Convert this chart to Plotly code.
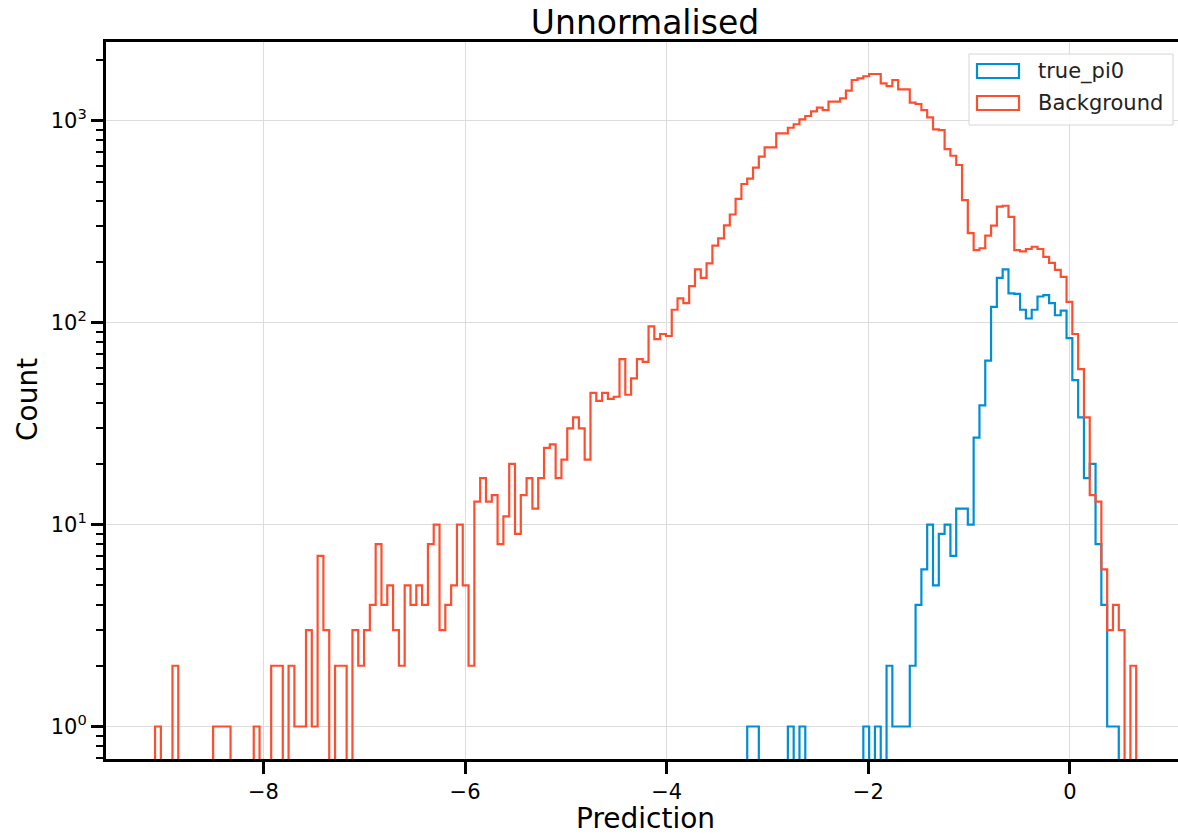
import numpy as np
import plotly.graph_objects as go

# ---------------- data ----------------
bin_start = -9.0754
bin_width = 0.05759

# Background: counts for bins 0..168
background_counts = [
    1, 0, 0, 2, 0, 0, 0, 0, 0, 0,
    1, 1, 1, 0, 0, 0, 0, 1, 0, 0,
    2, 2, 0, 2, 1, 1, 3, 1, 7, 3,
    0, 2, 2, 0, 3, 2, 3, 4, 8, 4,
    5, 3, 2, 5, 4, 5, 4, 8, 10, 3,
    4, 5, 10, 5, 2, 13, 17, 13, 14, 8,
    11, 20, 9, 14, 17, 12, 17, 24, 25, 17,
    21, 30, 34, 30, 21, 45, 41, 45, 42, 43,
    66, 44, 53, 66, 64, 96, 83, 88, 86, 116,
    132, 125, 152, 184, 167, 197, 241, 262, 304, 344,
    411, 487, 518, 587, 665, 740, 740, 868, 868, 925,
    963, 1019, 1058, 1116, 1163, 1130, 1245, 1245, 1294, 1413,
    1595, 1623, 1665, 1708, 1708, 1536, 1489, 1595, 1434, 1434,
    1231, 1213, 1132, 1042, 908, 900, 725, 672, 605, 405,
    278, 229, 234, 270, 303, 376, 380, 335, 229, 226,
    232, 238, 232, 212, 198, 183, 169, 127, 88, 59,
    34, 14, 13, 6, 3, 4, 3, 0, 2,
]
background_first_bin = 0

# true_pi0: counts for bins 102..165 (same binning)
true_pi0_first_bin = 102
true_pi0_counts = [
    1, 1, 0, 0, 0, 0, 0, 1, 0, 1,
    0, 0, 0, 0, 0, 0, 0, 0, 0, 0,
    1, 0, 1, 0, 2, 1, 1, 1, 2, 4,
    6, 10, 5, 9, 10, 7, 12, 12, 10, 27,
    39, 65, 120, 167, 184, 140, 139, 116, 105, 116,
    135, 137, 125, 109, 115, 84, 52, 34, 17, 20,
    8, 4, 1, 1,
]

series_names = ["true_pi0", "Background"]
series_colors = ["#008fd5", "#fc4f30"]

x_tick_vals = [-8, -6, -4, -2, 0]
x_tick_text = ["\u22128", "\u22126", "\u22124", "\u22122", "0"]
y_tick_vals = [1, 10, 100, 1000]
y_tick_text = ["10<sup>0</sup>", "10<sup>1</sup>", "10<sup>2</sup>", "10<sup>3</sup>"]
y_minor_vals = [0.7, 0.8, 0.9, 2, 3, 4, 5, 6, 7, 8, 9,
                20, 30, 40, 50, 60, 70, 80, 90,
                200, 300, 400, 500, 600, 700, 800, 900, 2000]

title_text = "Unnormalised"
x_label = "Prediction"
y_label = "Count"

# ---------------- figure ----------------
FLOOR = 1e-3  # zero-count bins drop below the visible axis range
FONT = "DejaVu Sans"

W, H = 1178, 834
L, R, T, B = 106, 0, 42, 75
PW, PH = W - L - R, H - T - B


def px_x(p):
    return (p - L) / PW


def px_y(p):
    return (H - B - p) / PH


def step_xy(first_bin, counts):
    idx = np.arange(first_bin, first_bin + len(counts) + 1)
    edges = bin_start + bin_width * idx
    xs = [edges[0]] + list(edges[:-1]) + [edges[-1]]
    ys = [FLOOR] + [c if c > 0 else FLOOR for c in counts] + [FLOOR]
    return xs, ys


fig = go.Figure()
for name, color, first, counts in [
    (series_names[0], series_colors[0], true_pi0_first_bin, true_pi0_counts),
    (series_names[1], series_colors[1], background_first_bin, background_counts),
]:
    xs, ys = step_xy(first, counts)
    fig.add_trace(go.Scatter(
        x=xs, y=ys, mode="lines", name=name,
        line=dict(color=color, width=2.2, shape="hv"),
        showlegend=False, hoverinfo="skip",
    ))

# manual legend (matplotlib style)
shapes = []
annotations = []
lx0, lx1, ly0, ly1 = 969, 1173, 54, 125
shapes.append(dict(type="rect", xref="paper", yref="paper",
                   x0=px_x(lx0), x1=px_x(lx1), y0=px_y(ly1), y1=px_y(ly0),
                   line=dict(color="#d6d6d6", width=1),
                   fillcolor="rgba(255,255,255,0.85)", layer="above"))
for i, (name, color) in enumerate(zip(series_names, series_colors)):
    yc = 71 + i * 32
    shapes.append(dict(type="rect", xref="paper", yref="paper",
                       x0=px_x(977), x1=px_x(1019), y0=px_y(yc + 7), y1=px_y(yc - 7),
                       line=dict(color=color, width=2.2),
                       fillcolor="rgba(0,0,0,0)", layer="above"))
    annotations.append(dict(text=name, xref="paper", yref="paper",
                            x=px_x(1036), y=px_y(yc), xanchor="left", yanchor="middle",
                            showarrow=False, font=dict(family=FONT, size=21, color="#222")))

# axis labels
annotations.append(dict(text=x_label, xref="paper", yref="paper",
                        x=px_x(645), y=px_y(818), xanchor="center", yanchor="middle",
                        showarrow=False, font=dict(family=FONT, size=28, color="black")))
annotations.append(dict(text=y_label, xref="paper", yref="paper",
                        x=px_x(27), y=px_y(400), xanchor="center", yanchor="middle",
                        textangle=-90,
                        showarrow=False, font=dict(family=FONT, size=28, color="black")))

fig.update_layout(
    width=W, height=H,
    margin=dict(l=L, r=R, t=T, b=B, pad=0),
    paper_bgcolor="white", plot_bgcolor="white",
    font=dict(family=FONT, color="black"),
    title=dict(text=title_text, x=px_x(645), xref="paper", xanchor="center",
               y=1 - 22 / H, yanchor="middle", yref="container",
               font=dict(family=FONT, size=33, color="black")),
    showlegend=False,
    shapes=shapes,
    annotations=annotations,
)

fig.update_xaxes(
    range=[-9.562, 1.072],
    tickmode="array", tickvals=x_tick_vals, ticktext=x_tick_text,
    ticks="outside", ticklen=12, tickwidth=3, tickcolor="black",
    tickfont=dict(family=FONT, size=21, color="black"),
    showgrid=True, gridcolor="#dcdcdc", gridwidth=1.3,
    showline=True, linewidth=3, linecolor="black", mirror=True,
    zeroline=False,
)
fig.update_yaxes(
    type="log",
    range=[-0.161, 3.391],
    tickmode="array", tickvals=y_tick_vals, ticktext=y_tick_text,
    ticks="outside", ticklen=12, tickwidth=3, tickcolor="black",
    tickfont=dict(family=FONT, size=21, color="black"),
    minor=dict(tickmode="array", tickvals=y_minor_vals, ticks="outside",
               ticklen=7, tickwidth=1.5, tickcolor="black", showgrid=False),
    showgrid=True, gridcolor="#dcdcdc", gridwidth=1.3,
    showline=True, linewidth=3, linecolor="black", mirror=False,
    zeroline=False,
)

fig.write_html("out.html")
